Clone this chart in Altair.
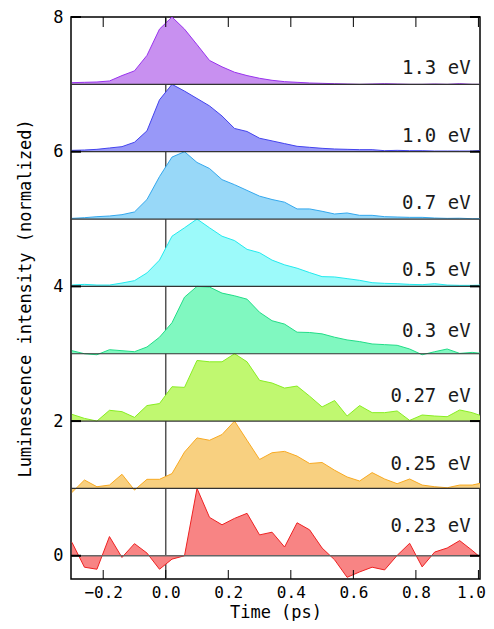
import altair as alt
import pandas as pd

times = [-0.3, -0.26, -0.22, -0.18, -0.14, -0.1, -0.06, -0.02, 0.02, 0.06, 0.1, 0.14,
         0.18, 0.22, 0.26, 0.3, 0.34, 0.38, 0.42, 0.46, 0.5, 0.54, 0.58, 0.62, 0.66,
         0.7, 0.74, 0.78, 0.82, 0.86, 0.9, 0.94, 0.98, 1.02]

labels = ["1.3 eV", "1.0 eV", "0.7 eV", "0.5 eV", "0.3 eV", "0.27 eV", "0.25 eV", "0.23 eV"]
offsets = [7, 6, 5, 4, 3, 2, 1, 0]

s_13 = [0.025, 0.03, 0.035, 0.05, 0.13, 0.2, 0.43, 0.82, 1.0, 0.82, 0.59, 0.355, 0.26, 0.18,
        0.13, 0.09, 0.06, 0.04, 0.03, 0.02, 0.015, 0.01, 0.005, 0.0, 0.005, 0.01, 0.005, 0.0,
        0.0, 0.005, 0.0, 0.01, 0.0, 0.0]
s_10 = [0.02, 0.025, 0.035, 0.055, 0.075, 0.14, 0.31, 0.77, 1.0, 0.9, 0.79, 0.68, 0.53, 0.345,
        0.3, 0.2, 0.16, 0.12, 0.08, 0.065, 0.05, 0.04, 0.035, 0.03, 0.03, 0.015, 0.02, 0.015,
        0.015, 0.01, 0.01, 0.01, 0.01, 0.02]
s_07 = [0.01, 0.02, 0.035, 0.045, 0.065, 0.105, 0.29, 0.63, 0.92, 1.0, 0.84, 0.75, 0.585, 0.51,
        0.425, 0.34, 0.29, 0.25, 0.15, 0.15, 0.115, 0.075, 0.09, 0.055, 0.055, 0.035, 0.03,
        0.025, 0.025, 0.015, 0.01, 0.012, 0.005, 0.005]
s_05 = [0.02, 0.03, 0.02, 0.02, 0.05, 0.085, 0.2, 0.39, 0.745, 0.87, 1.0, 0.87, 0.745, 0.68,
        0.55, 0.5, 0.39, 0.32, 0.27, 0.205, 0.145, 0.14, 0.115, 0.09, 0.055, 0.045, 0.04, 0.03,
        0.025, 0.04, 0.02, 0.015, 0.015, 0.02]
s_03 = [0.045, 0.0, -0.015, 0.06, 0.045, 0.03, 0.1, 0.245, 0.46, 0.84, 1.0, 0.99, 0.9, 0.86,
        0.81, 0.615, 0.49, 0.44, 0.32, 0.315, 0.295, 0.245, 0.205, 0.18, 0.145, 0.135, 0.125,
        0.07, -0.015, 0.03, 0.07, 0.005, 0.02, 0.0]
s_027 = [0.1, 0.04, 0.0, 0.16, 0.14, 0.055, 0.23, 0.26, 0.51, 0.5, 0.9, 0.88, 0.88, 1.0, 0.88,
         0.605, 0.565, 0.49, 0.52, 0.37, 0.21, 0.305, 0.075, 0.23, 0.125, 0.125, 0.15, 0.01,
         0.09, 0.075, 0.065, 0.165, 0.125, 0.06]
s_025 = [-0.06, 0.125, 0.025, 0.05, 0.21, -0.025, 0.135, 0.135, 0.22, 0.54, 0.75, 0.715, 0.8,
         1.0, 0.715, 0.43, 0.53, 0.55, 0.48, 0.37, 0.385, 0.27, 0.17, 0.11, 0.235, 0.14, 0.07,
         0.14, 0.05, 0.025, 0.01, 0.05, 0.05, 0.09]
s_023 = [0.2, -0.17, -0.2, 0.285, -0.025, 0.18, 0.04, -0.2, -0.05, 0.0, 1.0, 0.57, 0.46, 0.555,
         0.63, 0.31, 0.35, 0.13, 0.49, 0.385, 0.115, -0.06, -0.32, -0.24, -0.17, -0.21, 0.005,
         0.185, -0.165, 0.055, 0.115, 0.225, 0.08, -0.08]
series = [s_13, s_10, s_07, s_05, s_03, s_027, s_025, s_023]

fills = ["#c890f0", "#9898f8", "#98d8f8", "#9cfafa", "#80f8c0", "#c0f870", "#f8d080", "#f88484"]
strokes = ["#9933ee", "#4444ee", "#33a8ee", "#22eaee", "#22dd88", "#88ee22", "#f8aa22", "#ee2222"]

label_dy = [0.15, 0.15, 0.15, 0.155, 0.25, 0.28, 0.27, 0.36]
label_x = 0.975

x_ticks = [-0.2, 0.0, 0.2, 0.4, 0.6, 0.8, 1.0]
y_ticks = [0, 2, 4, 6, 8]

MONO = "DejaVu Sans Mono"
W, H = 409, 562

rows = []
for lab, off, vals in zip(labels, offsets, series):
    for t, v in zip(times, vals):
        rows.append({"label": lab, "t": t, "y": off + v, "base": off})
df = pd.DataFrame(rows)

xs = alt.Scale(domain=[-0.303, 1.005], nice=False, zero=False)
ys = alt.Scale(domain=[-0.345, 8], nice=False, zero=False)

xaxis = alt.Axis(values=x_ticks, format=".1f", labelPadding=5, title="Time (ps)",
                 titleFontSize=17, titlePadding=4, labelFontSize=16,
                 labelFlush=4, labelFlushOffset=7)
yaxis = alt.Axis(values=y_ticks, format="d", labelPadding=8, labelFontSize=17,
                 title="Luminescence intensity (normalized)", titleFontSize=17, titlePadding=18)


def X(field):
    return alt.X(field, scale=xs, axis=xaxis)


def Y(field):
    return alt.Y(field, scale=ys, axis=yaxis)


layers = []

# vertical line at time zero
layers.append(
    alt.Chart(pd.DataFrame({"t": [0.0]})).mark_rule(color="#555555", strokeWidth=1.5)
    .encode(x=X("t:Q"))
)

for lab, fc, sc in zip(labels, fills, strokes):
    sub = df[df["label"] == lab]
    layers.append(
        alt.Chart(sub).mark_area(color=fc, opacity=1, clip=True)
        .encode(x=X("t:Q"), y=Y("y:Q"), y2="base:Q")
    )
    layers.append(
        alt.Chart(sub).mark_line(color=sc, strokeWidth=1, clip=True)
        .encode(x=X("t:Q"), y=Y("y:Q"))
    )

# baselines
base_df = pd.DataFrame({"v": offsets})
layers.append(
    alt.Chart(base_df[base_df["v"] > 0]).mark_rule(color="#333333", strokeWidth=1.2)
    .encode(y=Y("v:Q"))
)
layers.append(
    alt.Chart(base_df[base_df["v"] == 0]).mark_rule(color="#666666", strokeWidth=1.5)
    .encode(y=Y("v:Q"))
)

# inward ticks
xt = pd.DataFrame({"t": x_ticks})
yt = pd.DataFrame({"v": y_ticks})
layers.append(alt.Chart(xt).mark_rule(color="black", strokeWidth=1)
              .encode(x=X("t:Q"), y=alt.value(0), y2=alt.value(10)))
layers.append(alt.Chart(xt).mark_rule(color="black", strokeWidth=1)
              .encode(x=X("t:Q"), y=alt.value(H), y2=alt.value(H - 9)))
layers.append(alt.Chart(yt).mark_rule(color="black", strokeWidth=2)
              .encode(y=Y("v:Q"), x=alt.value(0), x2=alt.value(10)))
layers.append(alt.Chart(yt).mark_rule(color="black", strokeWidth=2)
              .encode(y=Y("v:Q"), x=alt.value(W), x2=alt.value(W - 10)))

# labels
lab_df = pd.DataFrame({"label": labels,
                       "lx": [label_x] * len(labels),
                       "ly": [o + d for o, d in zip(offsets, label_dy)]})
layers.append(
    alt.Chart(lab_df).mark_text(align="right", baseline="alphabetic", font=MONO,
                                fontSize=19, color="#1a1a1a")
    .encode(x=X("lx:Q"), y=Y("ly:Q"), text="label:N")
)

chart = alt.layer(*layers).properties(
    width=W, height=H,
    padding={"left": 63, "top": 9, "right": 6, "bottom": 42},
    autosize=alt.AutoSizeParams(type="none"),
).configure_view(stroke="black", strokeWidth=1.5).configure_axis(
    grid=False, domain=False, ticks=False, tickSize=0,
    labelFont=MONO, titleFont=MONO, titleFontWeight="normal",
    labelColor="black", titleColor="black",
)

chart.save("out.html", embed_options={"renderer": "svg", "actions": False})
